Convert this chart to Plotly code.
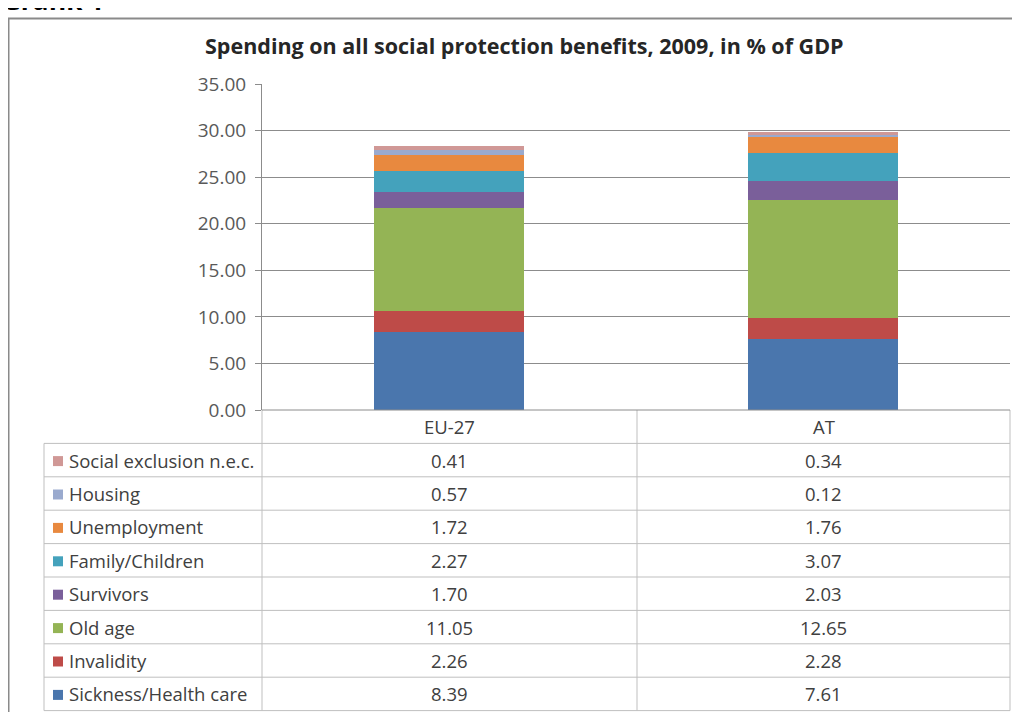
import plotly.graph_objects as go

categories = ["EU-27", "AT"]
series_names = ["Sickness/Health care", "Invalidity", "Old age", "Survivors",
                "Family/Children", "Unemployment", "Housing", "Social exclusion n.e.c."]
sickness = [8.39, 7.61]
invalidity = [2.26, 2.28]
old_age = [11.05, 12.65]
survivors = [1.70, 2.03]
family = [2.27, 3.07]
unemployment = [1.72, 1.76]
housing = [0.57, 0.12]
social_excl = [0.41, 0.34]
series_values = [sickness, invalidity, old_age, survivors, family, unemployment, housing, social_excl]
colors = ["#4A76AD", "#BE4B48", "#94B455", "#7A5F9A", "#44A2BC", "#E8893F", "#9AAACE", "#D09896"]
y_ticks = [0, 5, 10, 15, 20, 25, 30, 35]

OFF = 8  # page body margin
W, H = 1020 - OFF, 712 - OFF
L, R, T, B = 262 - OFF, 1010 - OFF, 84 - OFF, 410 - OFF  # plot area in figure pixels


def px(xp):
    return (xp - OFF - L) / (R - L)


def py(yp):
    return (B - (yp - OFF)) / (B - T)


fig = go.Figure()
for name, vals, col in zip(series_names, series_values, colors):
    fig.add_trace(go.Bar(x=categories, y=vals, name=name, marker=dict(color=col, line=dict(width=0)),
                         width=0.4))

font = "'Open Sans', sans-serif"
shapes = []
annotations = []
grid_col = "#BFBFBF"

# table geometry (reference pixel coords)
row_h = 33.4
rows = len(series_names)
tab_left = 44
col_edges = [262, 637, 1010]
header_top = 410
header_bot = header_top + row_h
table_bot = header_bot + rows * row_h

for i in range(rows + 1):
    yy = header_bot + i * row_h
    shapes.append(dict(type="line", xref="paper", yref="paper", x0=px(tab_left), x1=px(1010),
                       y0=py(yy), y1=py(yy), line=dict(color=grid_col, width=1)))
shapes.append(dict(type="line", xref="paper", yref="paper", x0=px(tab_left), x1=px(tab_left),
                   y0=py(header_bot), y1=py(table_bot), line=dict(color=grid_col, width=1)))
for xe in col_edges:
    shapes.append(dict(type="line", xref="paper", yref="paper", x0=px(xe), x1=px(xe),
                       y0=py(header_top), y1=py(table_bot), line=dict(color=grid_col, width=1)))
shapes.append(dict(type="line", xref="paper", yref="paper", x0=px(262), x1=px(1010),
                   y0=py(header_top), y1=py(header_top), line=dict(color="#8C8C8C", width=1)))
# chart frame
shapes.append(dict(type="line", xref="paper", yref="paper", x0=px(8.5), x1=px(8.5),
                   y0=py(18), y1=py(720), line=dict(color="#8A8A8A", width=2)))
shapes.append(dict(type="line", xref="paper", yref="paper", x0=px(8), x1=px(1030),
                   y0=py(18.5), y1=py(18.5), line=dict(color="#8A8A8A", width=2)))

txt_col = "#404040"
fs = 18.5
for ci, cat in enumerate(categories):
    xc = (col_edges[ci] + col_edges[ci + 1]) / 2
    annotations.append(dict(text=cat, xref="paper", yref="paper", x=px(xc), y=py(header_top + row_h / 2),
                            xanchor="center", yanchor="middle", showarrow=False,
                            font=dict(family=font, size=fs, color=txt_col)))
for r in range(rows):
    si = rows - 1 - r
    yc = header_bot + r * row_h + row_h / 2
    sw = 10
    shapes.append(dict(type="rect", xref="paper", yref="paper",
                       x0=px(53), x1=px(53 + sw), y0=py(yc - sw / 2 + 1), y1=py(yc + sw / 2 + 1),
                       fillcolor=colors[si], line=dict(width=0)))
    annotations.append(dict(text=series_names[si], xref="paper", yref="paper", x=px(67), y=py(yc),
                            xanchor="left", yanchor="middle", showarrow=False,
                            font=dict(family=font, size=fs, color=txt_col)))
    for ci in range(len(categories)):
        xc = (col_edges[ci] + col_edges[ci + 1]) / 2
        annotations.append(dict(text=f"{series_values[si][ci]:.2f}", xref="paper", yref="paper",
                                x=px(xc), y=py(yc), xanchor="center", yanchor="middle",
                                showarrow=False, font=dict(family=font, size=fs, color=txt_col)))

annotations.append(dict(text="<b>Spending on all social protection benefits, 2009, in % of GDP</b>",
                        xref="paper", yref="paper", x=px(524), y=py(45), xanchor="center",
                        yanchor="middle", showarrow=False,
                        font=dict(family=font, size=21.5, color="#262626")))
annotations.append(dict(text="<b>Grafik 1</b>", xref="paper", yref="paper", x=px(0), y=py(0),
                        xanchor="left", yanchor="middle", showarrow=False,
                        font=dict(family=font, size=26, color="#000000")))

fig.update_layout(
    barmode="stack",
    width=W, height=H,
    margin=dict(l=L, r=W - R, t=T, b=H - B, autoexpand=False),
    paper_bgcolor="white", plot_bgcolor="white",
    showlegend=False,
    shapes=shapes,
    annotations=annotations,
    xaxis=dict(showticklabels=False, showgrid=False, zeroline=False, showline=False,
               range=[-0.5, 1.5]),
    yaxis=dict(range=[0, 35], tickvals=y_ticks, tickformat=".2f", showgrid=True,
               gridcolor="#8C8C8C", gridwidth=1, zeroline=False, showline=True,
               linecolor="#8C8C8C", linewidth=1, ticks="outside", ticklen=6, tickcolor="#8C8C8C",
               ticklabelstandoff=5,
               tickfont=dict(family=font, size=19, color="#595959")),
    font=dict(family=font),
)

fig.write_html("out.html")
